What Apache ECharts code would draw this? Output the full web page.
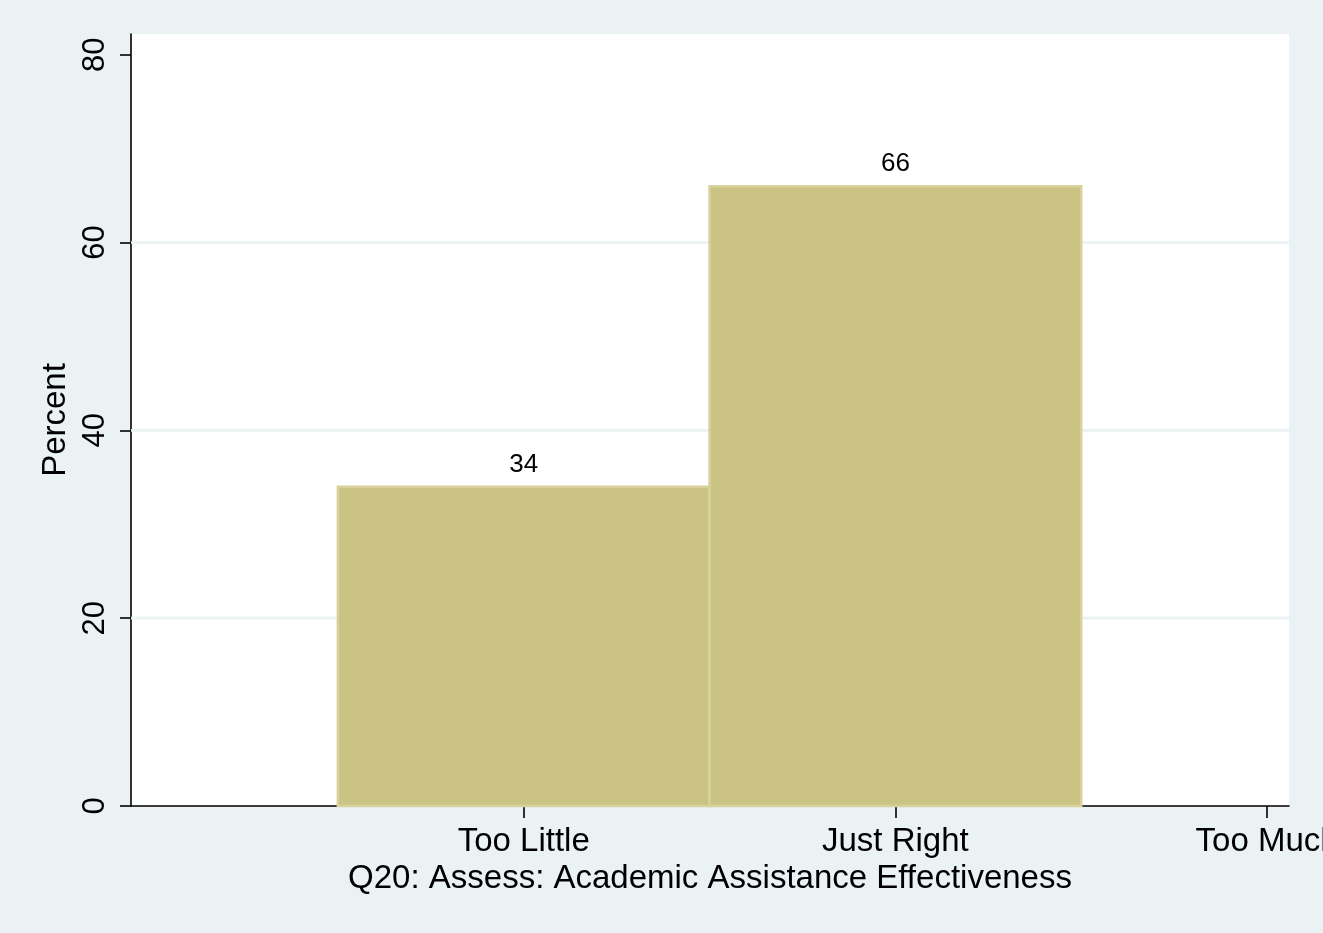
<!DOCTYPE html>
<html>
<head>
<meta charset="utf-8">
<script src="https://cdn.jsdelivr.net/npm/echarts@6/dist/echarts.min.js"></script>
<style>
  html, body { margin: 0; padding: 0; background: #EAF2F3; }
  #chart { width: 1323px; height: 933px; }
</style>
</head>
<body>
<div id="chart"></div>
<script>
// ---- data ----
const categories = ['Too Little', 'Just Right', 'Too Much'];
const categoryValues = [1, 2, 3];
const percents = [34, 66, 0];
const yTicks = [0, 20, 40, 60, 80];
const gridValues = [20, 40, 60];
const xTitle = 'Q20: Assess: Academic Assistance Effectiveness';
const yTitle = 'Percent';

const FONT = '"Liberation Sans", Arial, Helvetica, sans-serif';
const BAR_FILL = '#CBC383';
const BAR_EDGE = '#D8D19E';
const BG = '#EAF2F3';

const chart = echarts.init(document.getElementById('chart'), null, { renderer: 'canvas' });

const seriesData = categoryValues.map((x, i) => [x, percents[i]]);

chart.setOption({
  backgroundColor: BG,
  animation: false,
  grid: {
    left: 131, right: 34, top: 34, bottom: 127,
    containLabel: false,
    outerBoundsMode: 'none',
    show: true, backgroundColor: '#FFFFFF', borderWidth: 0
  },
  xAxis: {
    type: 'value',
    min: -0.0565,
    max: 3.059,
    name: xTitle,
    nameLocation: 'middle',
    nameGap: 53,
    nameTextStyle: { fontFamily: FONT, fontSize: 33, color: '#000' },
    axisLine: { show: true, onZero: false, lineStyle: { color: '#000', width: 1.6 } },
    axisTick: { show: true, customValues: categoryValues, length: 12, lineStyle: { color: '#000', width: 1.6 } },
    axisLabel: {
      customValues: categoryValues,
      formatter: v => categories[categoryValues.indexOf(v)] || '',
      fontFamily: FONT, fontSize: 33, color: '#000', margin: 19
    },
    splitLine: { show: false }
  },
  yAxis: {
    type: 'value',
    min: 0,
    max: 82.2,
    name: yTitle,
    nameLocation: 'middle',
    nameGap: 59,
    nameRotate: 90,
    nameTextStyle: { fontFamily: FONT, fontSize: 33, color: '#000' },
    axisLine: { show: true, onZero: false, lineStyle: { color: '#000', width: 1.6 } },
    axisTick: { show: true, customValues: yTicks, length: 11, lineStyle: { color: '#000', width: 1.6 } },
    axisLabel: {
      customValues: yTicks,
      rotate: 90,
      fontFamily: FONT, fontSize: 31, color: '#000', margin: 20
    },
    splitLine: { show: false }
  },
  series: [
    {
      type: 'custom',
      z: 1,
      silent: true,
      data: gridValues,
      renderItem: function (params, api) {
        const v = api.value(0);
        const cs = params.coordSys;
        const p = api.coord([0, v]);
        return {
          type: 'line',
          shape: { x1: cs.x, y1: p[1], x2: cs.x + cs.width, y2: p[1] },
          style: { stroke: BG, lineWidth: 2.7 }
        };
      },
      encode: { y: 0 }
    },
    {
      type: 'custom',
      z: 3,
      data: seriesData,
      renderItem: function (params, api) {
        const x = api.value(0);
        const y = api.value(1);
        if (!y) return null;
        const p0 = api.coord([x - 0.5, y]);
        const p1 = api.coord([x + 0.5, 0]);
        const top = api.coord([x, y]);
        return {
          type: 'group',
          children: [
            {
              type: 'rect',
              shape: { x: p0[0], y: p0[1], width: p1[0] - p0[0], height: p1[1] - p0[1] },
              style: { fill: BAR_FILL, stroke: BAR_EDGE, lineWidth: 2.5 }
            },
            {
              type: 'text',
              x: top[0],
              y: top[1] - 9,
              style: {
                text: String(y),
                fontFamily: FONT, fontSize: 26, fill: '#000',
                align: 'center', verticalAlign: 'bottom'
              }
            }
          ]
        };
      }
    }
  ]
});
</script>
</body>
</html>
